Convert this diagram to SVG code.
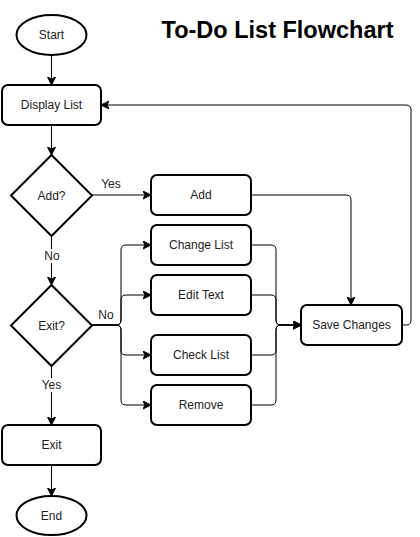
<svg xmlns="http://www.w3.org/2000/svg" width="420" height="537" viewBox="0 0 420 537">
<style>
.n{fill:#fff;stroke:#000;stroke-width:2}
.t{font-family:"Liberation Sans",Arial,sans-serif;font-size:12px;fill:#222;text-anchor:middle;dominant-baseline:central}
.c{fill:none;stroke:#000;stroke-width:1;marker-end:url(#a)}
.lb{fill:#fff}
</style>
<defs>
<marker id="a" markerUnits="userSpaceOnUse" markerWidth="10" markerHeight="10" refX="8" refY="4" orient="auto">
<path d="M0,0 L8,4 L0,8 L2,4 z" fill="#000" stroke="#000" stroke-width="1"/>
</marker>
</defs>
<rect width="420" height="537" fill="#fff"/>
<text x="277.5" y="38" style="font-family:'Liberation Sans',Arial,sans-serif;font-size:23.5px;font-weight:bold;fill:#000;text-anchor:middle">To-Do List Flowchart</text>
<g id="connectors">
<path class="c" d="M51.5,55 L51.5,85"/>
<path class="c" d="M51.5,125 L51.5,155"/>
<path class="c" d="M51.5,236 L51.5,285"/>
<path class="c" d="M51.5,366 L51.5,425"/>
<path class="c" d="M51.5,465 L51.5,496"/>
<path class="c" d="M92,195 L151,195"/>
<path class="c" d="M92,325 L116,325 Q121,325 121,320 L121,250 Q121,245 126,245 L151,245"/>
<path class="c" d="M92,325 L116,325 Q121,325 121,320 L121,300 Q121,295 126,295 L151,295"/>
<path class="c" d="M92,325 L116,325 Q121,325 121,330 L121,350 Q121,355 126,355 L151,355"/>
<path class="c" d="M92,325 L116,325 Q121,325 121,330 L121,400 Q121,405 126,405 L151,405"/>
<path class="c" d="M251,245 L271,245 Q276,245 276,250 L276,320 Q276,325 281,325 L301,325"/>
<path class="c" d="M251,295 L271,295 Q276,295 276,300 L276,320 Q276,325 281,325 L301,325"/>
<path class="c" d="M251,355 L271,355 Q276,355 276,350 L276,330 Q276,325 281,325 L301,325"/>
<path class="c" d="M251,405 L271,405 Q276,405 276,400 L276,330 Q276,325 281,325 L301,325"/>
<path class="c" d="M251,195 L346,195 Q351,195 351,200 L351,305"/>
<path class="c" d="M402,325 L406,325 Q411,325 411,320 L411,110 Q411,105 406,105 L101,105"/>
<rect class="lb" x="100" y="177" width="22" height="14"/>
<text class="t" x="111" y="184">Yes</text>
<rect class="lb" x="43" y="249" width="18" height="14"/>
<text class="t" x="52" y="256">No</text>
<rect class="lb" x="97" y="308" width="18" height="14"/>
<text class="t" x="106" y="315">No</text>
<rect class="lb" x="40" y="378" width="23" height="14"/>
<text class="t" x="51.5" y="385">Yes</text>
</g>
<g id="start"><ellipse class="n" cx="51.5" cy="35" rx="35" ry="20"/><text class="t" x="51.5" y="35">Start</text></g>
<g id="display"><rect class="n" x="2" y="85" width="99" height="40" rx="6"/><text class="t" x="51.5" y="105">Display List</text></g>
<g id="addq"><path class="n" d="M51.5,155 L92,195.5 L51.5,236 L11,195.5 z"/><text class="t" x="51.5" y="195.5">Add?</text></g>
<g id="exitq"><path class="n" d="M51.5,285 L92,325.5 L51.5,366 L11,325.5 z"/><text class="t" x="51.5" y="325.5">Exit?</text></g>
<g id="exit"><rect class="n" x="2" y="425" width="99" height="40" rx="6"/><text class="t" x="51.5" y="445">Exit</text></g>
<g id="end"><ellipse class="n" cx="51.5" cy="515.5" rx="35" ry="19.5"/><text class="t" x="51.5" y="515.5">End</text></g>
<g id="add"><rect class="n" x="151" y="175" width="100" height="40" rx="6"/><text class="t" x="201" y="195">Add</text></g>
<g id="change"><rect class="n" x="151" y="225" width="100" height="40" rx="6"/><text class="t" x="201" y="245">Change List</text></g>
<g id="edit"><rect class="n" x="151" y="275" width="100" height="40" rx="6"/><text class="t" x="201" y="295">Edit Text</text></g>
<g id="check"><rect class="n" x="151" y="335" width="100" height="40" rx="6"/><text class="t" x="201" y="355">Check List</text></g>
<g id="remove"><rect class="n" x="151" y="385" width="100" height="40" rx="6"/><text class="t" x="201" y="405">Remove</text></g>
<g id="save"><rect class="n" x="301" y="305" width="101" height="40" rx="6"/><text class="t" x="351.5" y="325">Save Changes</text></g>
</svg>
